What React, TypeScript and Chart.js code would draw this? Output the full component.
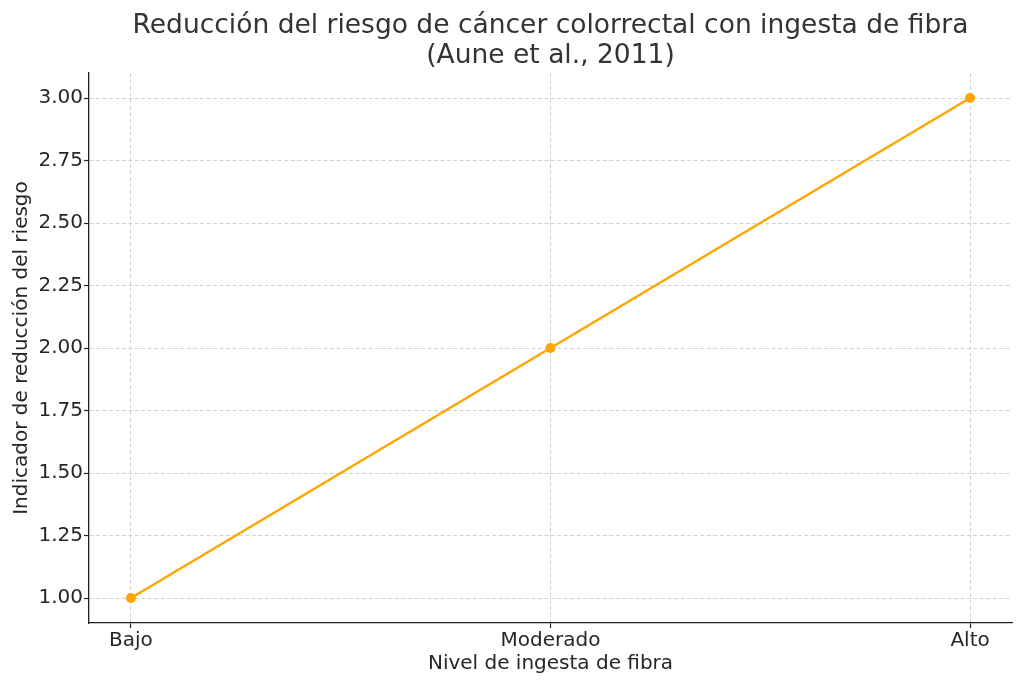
import React, { useEffect, useRef } from 'react';
import { Chart, registerables } from 'chart.js';

Chart.register(...registerables);

const categories = ['Bajo', 'Moderado', 'Alto'];
const riskValues = [1, 2, 3];
const yTicks = [1.0, 1.25, 1.5, 1.75, 2.0, 2.25, 2.5, 2.75, 3.0];

const TEXT = '#262626';
const TITLE = '#333333';
const FONT = 'DejaVu Sans';

const App = (): JSX.Element => {
  const canvasRef = useRef<HTMLCanvasElement>(null);

  useEffect(() => {
    const ctx = canvasRef.current.getContext('2d');

    const chart = new Chart(ctx, {
      type: 'line',
      data: {
        datasets: [
          {
            data: riskValues.map((v, i) => ({ x: i, y: v })),
            borderColor: '#FFA500',
            backgroundColor: '#FFA500',
            borderWidth: 2.5,
            pointRadius: 5,
            pointBorderWidth: 0,
            tension: 0,
          },
        ],
      },
      options: {
        responsive: false,
        animation: false,
        layout: { padding: { left: 0, right: 12, top: 0, bottom: 0 } },
        plugins: {
          legend: { display: false },
          tooltip: { enabled: false },
          title: {
            display: true,
            fullSize: false,
            text: [
              'Reducción del riesgo de cáncer colorrectal con ingesta de fibra',
              '(Aune et al., 2011)',
            ],
            color: TITLE,
            font: { family: FONT, size: 26.5, weight: 'normal', lineHeight: '30px' },
            padding: { top: 11, bottom: 2 },
          },
        },
        scales: {
          x: {
            type: 'linear',
            min: -0.1,
            max: 2.1,
            afterFit: (scale) => {
              scale.height = 63;
            },
            afterBuildTicks: (scale) => {
              scale.ticks = categories.map((_, i) => ({ value: i }));
            },
            ticks: {
              callback: (v) => categories[v as number] ?? '',
              color: TEXT,
              font: { family: FONT, size: 20 },
              padding: 1,
              maxRotation: 0,
            },
            grid: {
              color: '#cccccc',
              lineWidth: 0.9,
              tickLength: 5,
              tickColor: '#222',
              tickWidth: 1.2,
            },
            border: { color: '#222', width: 1.3, dash: [4, 2.5] },
            title: {
              display: true,
              text: 'Nivel de ingesta de fibra',
              color: TEXT,
              font: { family: FONT, size: 20 },
              padding: { top: 0, bottom: 10 },
            },
          },
          y: {
            type: 'linear',
            min: 0.9,
            max: 3.1,
            afterFit: (scale) => {
              scale.width = 89;
            },
            afterBuildTicks: (scale) => {
              scale.ticks = yTicks.map((v) => ({ value: v }));
            },
            ticks: {
              callback: (v) => (v as number).toFixed(2),
              color: TEXT,
              font: { family: FONT, size: 20 },
              padding: 1,
            },
            grid: {
              color: '#cccccc',
              lineWidth: 0.9,
              tickLength: 5,
              tickColor: '#222',
              tickWidth: 1.2,
            },
            border: { color: '#222', width: 1.3, dash: [4, 2.5] },
            title: {
              display: true,
              text: 'Indicador de reducción del riesgo',
              color: TEXT,
              font: { family: FONT, size: 20 },
              padding: { top: 10, bottom: 0 },
            },
          },
        },
      },
    });
    return () => {
      chart.destroy();
    };
  }, []);

  return (
    <div style={{ position: 'fixed', left: 0, top: 0, width: 1024, height: 686, background: '#fff' }}>
      <canvas ref={canvasRef} width={1024} height={686} />
    </div>
  );
};

export default App;
